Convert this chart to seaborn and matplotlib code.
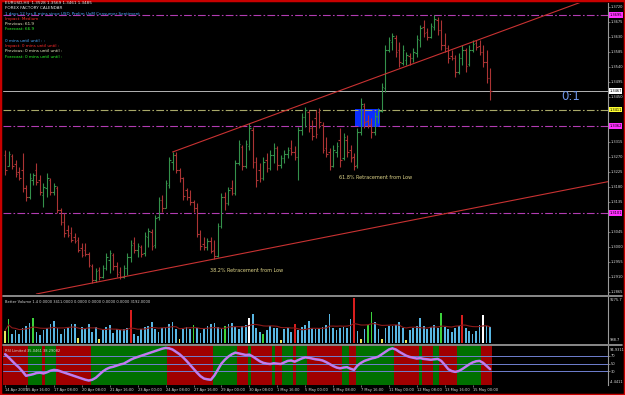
import numpy as np
import pandas as pd
import matplotlib
matplotlib.use("Agg")
import matplotlib.pyplot as plt
from matplotlib.patches import Rectangle
from matplotlib.lines import Line2D
import seaborn as sns

# EURUSD H4, 14 Apr - 15 May 2009
opens = [
    1.3275, 1.3242, 1.3272, 1.3248, 1.3224, 1.3230, 1.3176, 1.3149, 1.3200, 1.3230,
    1.3200, 1.3155, 1.3176, 1.3200, 1.3164, 1.3176, 1.3110, 1.3074, 1.3050, 1.3041,
    1.3029, 1.3020, 1.2996, 1.2990, 1.2978, 1.2942, 1.2900, 1.2930, 1.2909, 1.2936,
    1.2960, 1.2975, 1.2942, 1.2924, 1.2909, 1.2936, 1.2969, 1.3011, 1.2990, 1.2999,
    1.2981, 1.3029, 1.3044, 1.3005, 1.3089, 1.3140, 1.3116, 1.3185, 1.3254, 1.3275,
    1.3230, 1.3206, 1.3170, 1.3149, 1.3134, 1.3116, 1.3038, 1.3008, 1.2999, 1.3017,
    1.2990, 1.2972, 1.3062, 1.3149, 1.3131, 1.3176, 1.3161, 1.3251, 1.3299, 1.3242,
    1.3302, 1.3350, 1.3254, 1.3230, 1.3206, 1.3260, 1.3236, 1.3275, 1.3296, 1.3245,
    1.3266, 1.3278, 1.3296, 1.3284, 1.3269, 1.3350, 1.3389, 1.3404, 1.3356, 1.3386,
    1.3404, 1.3365, 1.3296, 1.3284, 1.3242, 1.3284, 1.3320, 1.3266, 1.3320, 1.3290,
    1.3269, 1.3245, 1.3344, 1.3422, 1.3377, 1.3368, 1.3344, 1.3389, 1.3407, 1.3476,
    1.3590, 1.3614, 1.3626, 1.3590, 1.3551, 1.3560, 1.3572, 1.3566, 1.3581, 1.3620,
    1.3659, 1.3644, 1.3629, 1.3659, 1.3680, 1.3650, 1.3605, 1.3596, 1.3572, 1.3566,
    1.3524, 1.3566, 1.3590, 1.3548, 1.3590, 1.3611, 1.3602, 1.3584, 1.3554, 1.3506,
]
highs = [
    1.3290, 1.3287, 1.3278, 1.3260, 1.3239, 1.3281, 1.3185, 1.3221, 1.3221, 1.3251,
    1.3215, 1.3191, 1.3221, 1.3206, 1.3191, 1.3182, 1.3116, 1.3101, 1.3065, 1.3059,
    1.3041, 1.3029, 1.3011, 1.3011, 1.2984, 1.2948, 1.2936, 1.2939, 1.2945, 1.2981,
    1.2990, 1.2981, 1.2954, 1.2939, 1.2945, 1.2981, 1.3020, 1.3029, 1.3011, 1.3005,
    1.3044, 1.3056, 1.3053, 1.3095, 1.3149, 1.3155, 1.3200, 1.3269, 1.3284, 1.3284,
    1.3236, 1.3209, 1.3176, 1.3170, 1.3140, 1.3131, 1.3050, 1.3029, 1.3026, 1.3029,
    1.3020, 1.3071, 1.3161, 1.3164, 1.3179, 1.3200, 1.3260, 1.3320, 1.3305, 1.3320,
    1.3371, 1.3359, 1.3269, 1.3251, 1.3269, 1.3281, 1.3290, 1.3311, 1.3302, 1.3275,
    1.3290, 1.3299, 1.3320, 1.3302, 1.3359, 1.3401, 1.3419, 1.3410, 1.3380, 1.3410,
    1.3416, 1.3374, 1.3329, 1.3296, 1.3305, 1.3314, 1.3356, 1.3341, 1.3335, 1.3305,
    1.3281, 1.3356, 1.3446, 1.3431, 1.3395, 1.3386, 1.3404, 1.3416, 1.3491, 1.3605,
    1.3629, 1.3641, 1.3635, 1.3614, 1.3605, 1.3584, 1.3581, 1.3596, 1.3635, 1.3665,
    1.3680, 1.3656, 1.3671, 1.3695, 1.3689, 1.3680, 1.3641, 1.3605, 1.3590, 1.3575,
    1.3581, 1.3605, 1.3596, 1.3605, 1.3620, 1.3620, 1.3620, 1.3605, 1.3590, 1.3536,
]
lows = [
    1.3215, 1.3242, 1.3233, 1.3209, 1.3200, 1.3164, 1.3137, 1.3143, 1.3185, 1.3185,
    1.3155, 1.3119, 1.3149, 1.3155, 1.3155, 1.3101, 1.3065, 1.3029, 1.3029, 1.3014,
    1.3011, 1.2984, 1.2969, 1.2972, 1.2939, 1.2891, 1.2894, 1.2900, 1.2906, 1.2930,
    1.2921, 1.2930, 1.2909, 1.2903, 1.2906, 1.2915, 1.2954, 1.2981, 1.2969, 1.2969,
    1.2972, 1.2999, 1.2990, 1.2996, 1.3080, 1.3104, 1.3116, 1.3176, 1.3230, 1.3221,
    1.3194, 1.3140, 1.3140, 1.3125, 1.3104, 1.3029, 1.2990, 1.2990, 1.2990, 1.2981,
    1.2963, 1.2969, 1.3056, 1.3110, 1.3125, 1.3155, 1.3155, 1.3245, 1.3230, 1.3236,
    1.3290, 1.3236, 1.3179, 1.3194, 1.3200, 1.3224, 1.3230, 1.3251, 1.3230, 1.3236,
    1.3251, 1.3266, 1.3275, 1.3260, 1.3200, 1.3335, 1.3359, 1.3344, 1.3320, 1.3326,
    1.3356, 1.3281, 1.3269, 1.3230, 1.3239, 1.3269, 1.3239, 1.3260, 1.3269, 1.3254,
    1.3230, 1.3236, 1.3335, 1.3356, 1.3356, 1.3326, 1.3335, 1.3371, 1.3404, 1.3464,
    1.3584, 1.3590, 1.3569, 1.3539, 1.3545, 1.3545, 1.3545, 1.3554, 1.3569, 1.3599,
    1.3629, 1.3620, 1.3626, 1.3650, 1.3635, 1.3590, 1.3584, 1.3551, 1.3560, 1.3509,
    1.3518, 1.3545, 1.3524, 1.3542, 1.3584, 1.3590, 1.3575, 1.3539, 1.3491, 1.3440,
]
closes = [
    1.3230, 1.3278, 1.3242, 1.3218, 1.3206, 1.3176, 1.3149, 1.3206, 1.3215, 1.3194,
    1.3164, 1.3179, 1.3206, 1.3164, 1.3182, 1.3110, 1.3074, 1.3041, 1.3035, 1.3020,
    1.3017, 1.2990, 1.2975, 1.2978, 1.2945, 1.2900, 1.2927, 1.2909, 1.2936, 1.2969,
    1.2981, 1.2942, 1.2918, 1.2909, 1.2936, 1.2969, 1.3005, 1.2990, 1.3002, 1.2978,
    1.3032, 1.3047, 1.3002, 1.3086, 1.3140, 1.3116, 1.3191, 1.3260, 1.3275, 1.3230,
    1.3206, 1.3152, 1.3149, 1.3134, 1.3116, 1.3038, 1.3002, 1.2999, 1.3017, 1.2987,
    1.2972, 1.3062, 1.3149, 1.3131, 1.3170, 1.3161, 1.3251, 1.3308, 1.3242, 1.3308,
    1.3356, 1.3254, 1.3200, 1.3206, 1.3254, 1.3236, 1.3275, 1.3296, 1.3245, 1.3266,
    1.3278, 1.3290, 1.3284, 1.3269, 1.3350, 1.3389, 1.3410, 1.3356, 1.3332, 1.3338,
    1.3374, 1.3290, 1.3278, 1.3242, 1.3290, 1.3302, 1.3260, 1.3329, 1.3284, 1.3266,
    1.3242, 1.3344, 1.3428, 1.3374, 1.3365, 1.3344, 1.3392, 1.3407, 1.3479, 1.3590,
    1.3620, 1.3632, 1.3584, 1.3554, 1.3590, 1.3575, 1.3566, 1.3584, 1.3623, 1.3656,
    1.3641, 1.3629, 1.3662, 1.3683, 1.3650, 1.3605, 1.3596, 1.3566, 1.3566, 1.3524,
    1.3566, 1.3590, 1.3542, 1.3590, 1.3608, 1.3599, 1.3584, 1.3554, 1.3506, 1.3467,
]

time_labels = [
    "14 Apr 2009", "15 Apr 16:00", "17 Apr 08:00", "20 Apr 08:00", "21 Apr 16:00",
    "23 Apr 00:00", "24 Apr 08:00", "27 Apr 16:00", "29 Apr 00:00", "30 Apr 08:00",
    "1 May 16:00", "5 May 00:00", "6 May 08:00", "7 May 16:00", "11 May 00:00",
    "12 May 08:00", "13 May 16:00", "15 May 00:00",
]

# Better Volume histogram; b=normal, g=climax low, r=climax high, y=low volume, w=churn
volumes = [
    3200, 5300, 2600, 3300, 2500, 3600, 4100, 4600, 5500, 3000,
    2400, 3300, 3600, 4400, 4900, 3700, 2600, 3400, 3700, 4500,
    4400, 1800, 3800, 3400, 4400, 3000, 3900, 1600, 3300, 3800,
    4200, 2700, 3500, 3300, 3500, 3600, 7000, 2600, 2200, 3500,
    3800, 4000, 4800, 3500, 3000, 3600, 3900, 4500, 4800, 3500,
    1700, 3500, 3800, 3500, 4300, 3700, 2800, 3400, 4000, 4400,
    4600, 3800, 3400, 4000, 4400, 4600, 3900, 3500, 4000, 4300,
    5600, 6200, 3600, 3000, 2600, 3300, 4000, 3600, 3600, 1500,
    3400, 3700, 3000, 4500, 3300, 3800, 4200, 5000, 3700, 3400,
    3700, 3900, 4300, 6300, 3600, 3300, 3600, 3900, 3700, 5400,
    9200, 3200, 1600, 3400, 4300, 6600, 4700, 3500, 1600, 3600,
    4100, 4000, 4200, 4700, 3700, 1500, 3300, 3700, 4000, 5500,
    4000, 3500, 3800, 4300, 3700, 6400, 3800, 3400, 3000, 3700,
    4000, 6000, 3700, 3200, 2600, 3200, 4200, 6000, 4000, 3800,
]
vol_kind = ("ygbbbbbbgb" "bbbbbbbbbb" "bybbbbbybb" "bbbbbbrbbb" "bbbbbbbbbb"
            "ybbbgbbbbb" "bbbgbbbbbb" "wbbbgbbbby" "bbbrbbbbbb" "bbbbbbbbbb"
            "rbybggbbyb" "bbbbbybbbb" "bbbbbgbbbb" "brbbbbbwbb")

rsi = [
    74, 66, 57, 48, 40, 30, 19, 21, 23, 26,
    27, 25, 28, 32, 34, 33, 30, 27, 24, 21,
    18, 15, 12, 9, 7, 9, 14, 22, 30, 36,
    40, 42, 45, 48, 50, 55, 60, 64, 67, 70,
    73, 76, 79, 82, 85, 88, 90, 89, 86, 80,
    74, 66, 57, 47, 37, 27, 18, 12, 10, 9,
    20, 35, 50, 60, 68, 74, 78, 76, 74, 72,
    73, 68, 62, 56, 52, 50, 49, 51, 50, 49,
    53, 57, 58, 55, 59, 63, 66, 65, 63, 61,
    60, 58, 54, 49, 44, 40, 38, 40, 41, 37,
    34, 45, 52, 57, 60, 63, 65, 68, 74, 80,
    86, 89, 86, 80, 75, 70, 67, 65, 63, 64,
    62, 61, 60, 61, 62, 57, 47, 36, 31, 29,
    31, 36, 42, 48, 53, 56, 57, 52, 44, 36,
]
# runs of falling (R) / rising (G) background bars in the RSI window
rsi_runs = [("R", 7), ("G", 4), ("R", 1), ("G", 3), ("R", 10), ("G", 22), ("R", 13),
            ("G", 7), ("R", 3), ("G", 1), ("R", 6), ("G", 1), ("R", 2), ("G", 3),
            ("R", 1), ("G", 3), ("R", 10), ("G", 2), ("R", 2), ("G", 11), ("R", 7),
            ("G", 1), ("R", 3), ("G", 2), ("R", 5), ("G", 7), ("R", 3)]

magenta_levels = [1.3695, 1.3362, 1.3101]
yellow_level = 1.3411
bid = 1.3467
# trend lines as (bar, price) anchor pairs
upper_channel = [(48, 1.3284), (142, 1.3645)]
lower_channel = [(25, 1.2891), (60, 1.2963)]
retrace_box = (100.3, 107.4, 1.3359, 1.3413)

df = pd.DataFrame({"open": opens, "high": highs, "low": lows, "close": closes,
                   "volume": volumes, "rsi": rsi})
df["bar"] = np.arange(len(df))
df["vma"] = df["volume"].rolling(14, min_periods=1).mean()

sns.set_style("dark", {"axes.facecolor": "black", "figure.facecolor": "black"})
plt.rcParams["font.family"] = ["DejaVu Sans"]

W, H = 625, 395
fig = plt.figure(figsize=(W / 100, H / 100), dpi=100)


def rect(x0, y0, x1, y1):
    return [x0 / W, 1 - y1 / H, (x1 - x0) / W, (y1 - y0) / H]


ax = fig.add_axes(rect(3, 3, 608, 294))
axv = fig.add_axes(rect(3, 297, 608, 343), sharex=ax)
axr = fig.add_axes(rect(3, 346, 608, 385), sharex=ax)
for a in (ax, axv, axr):
    a.set_facecolor("black")
    a.grid(False)
    for s in a.spines.values():
        s.set_visible(False)
    a.spines["right"].set_visible(True)
    a.spines["right"].set_color("#9a9a9a")
    a.spines["right"].set_linewidth(0.8)
    a.yaxis.tick_right()
    a.tick_params(axis="y", colors="#9a9a9a", labelcolor="#d8d8d8", labelsize=2.6,
                  length=1.2, width=0.5, pad=0.8)
XMAX = 172.8
ax.set_xlim(-0.6, XMAX)

# ---- price window ----
ax.set_ylim(1.2858, 1.3731)
marked = magenta_levels + [yellow_level, bid]
ticks = [t for t in np.round(np.arange(1.2865, 1.3725, 0.0045), 4)
         if min(abs(t - m) for m in marked) > 0.0014]
ax.set_yticks(ticks)
ax.yaxis.set_major_formatter(matplotlib.ticker.FormatStrFormatter("%.4f"))

x0, x1, p0, p1 = retrace_box
ax.add_patch(Rectangle((x0, p0), x1 - x0, p1 - p0, color="#0a2dff", lw=0, zorder=1))

dashdot = (0, (7, 2, 1.5, 2))
for lv in magenta_levels:
    ax.axhline(lv, color="#b23cb2", lw=0.8, ls=dashdot, zorder=1)
ax.axhline(yellow_level, color="#a8a868", lw=0.8, ls=dashdot, zorder=1)
ax.axhline(bid, color="#b4b4b4", lw=0.7, zorder=1)

up = df[df["close"] >= df["open"]]
dn = df[df["close"] < df["open"]]
for part, col in ((up, "#34914a"), (dn, "#ab3434")):
    ax.vlines(part["bar"], part["low"], part["high"], color=col, lw=0.8, zorder=2)
    ax.hlines(part["open"], part["bar"] - 0.45, part["bar"], color=col, lw=0.8, zorder=2)
    ax.hlines(part["close"], part["bar"], part["bar"] + 0.45, color=col, lw=0.8, zorder=2)

(ua, pa), (ub, pb) = upper_channel
slope = (pb - pa) / (ub - ua)
ax.plot([ua, XMAX], [pa, pa + slope * (XMAX - ua)], color="#c83232", lw=0.8, zorder=3)
ax.axline(lower_channel[0], lower_channel[1], color="#c83232", lw=0.8, zorder=3)

ax.text(58.7, 1.2930, "38.2% Retracement from Low", color="#e0d68a", fontsize=3.5, va="center")
ax.text(95.7, 1.3209, "61.8% Retracement from Low", color="#e0d68a", fontsize=3.5, va="center")
ax.text(159.5, 1.3449, "0:1", color="#6f96e8", fontsize=8.5, va="center")

lab = dict(transform=ax.get_yaxis_transform(), fontsize=2.6, color="black", va="center",
           ha="left", zorder=5)
for lv in magenta_levels:
    ax.text(1.002, lv, f"{lv:.4f}", bbox=dict(fc="#ff30ff", ec="none", pad=0.5), **lab)
ax.text(1.002, yellow_level, f"{yellow_level:.4f}", bbox=dict(fc="#ffff30", ec="none", pad=0.5), **lab)
ax.text(1.002, bid, f"{bid:.4f}", bbox=dict(fc="white", ec="none", pad=0.5), **lab)

# ---- volume window ----
vol_palette = {"b": "#58b6e2", "g": "#3cd23c", "r": "#d81e1e", "y": "#e8e85a", "w": "#ffffff"}
axv.bar(df["bar"], df["volume"], width=0.5, color=[vol_palette[k] for k in vol_kind], lw=0)
sns.lineplot(x="bar", y="vma", data=df, ax=axv, color="#8b1a1a", lw=0.8)
axv.set_ylim(900, 9400)
axv.set_yticks([])
axv.set_xlabel("")
axv.set_ylabel("")
vt = dict(transform=axv.transAxes, fontsize=2.6, color="#d8d8d8", ha="left")
axv.text(1.003, 0.97, "9275.7", va="top", **vt)
axv.text(1.003, 0.03, "988.7", va="bottom", **vt)
axv.text(0.003, 0.93, "Better Volume 1.4 0.0000 3411.0000 0.0000 0.0000 0.0000 0.0000 3192.0000",
         transform=axv.transAxes, fontsize=2.6, color="#d8d8d8", va="top")

# ---- RSI window ----
bg = {"R": "#a00000", "G": "#007000"}
start = 0
for kind, n in rsi_runs:
    axr.axvspan(start - 0.5, start + n - 0.5, color=bg[kind], lw=0, zorder=0)
    start += n
for lv in (70, 50, 30):
    axr.axhline(lv, color="#6f7fd0", lw=0.7, zorder=1)
sns.lineplot(x="bar", y="rsi", data=df, ax=axr, color="#8c8cff", lw=1.8, zorder=2)
sns.lineplot(x="bar", y="rsi", data=df, ax=axr, color="#e070e0", lw=0.9, zorder=3)
axr.set_ylim(-4.4411, 94.9311)
axr.set_yticks([70, 50, 30])
axr.set_ylabel("")
rt = dict(transform=axr.transAxes, fontsize=2.6, color="#d8d8d8", ha="left")
axr.text(1.003, 0.95, "94.9311", va="top", **rt)
axr.text(1.003, 0.03, "-4.4411", va="bottom", **rt)
axr.text(0.003, 0.93, "RSI Limited 35.0461 38.29082", transform=axr.transAxes,
         fontsize=2.6, color="#d8d8d8", va="top")

axr.set_xticks([0] + list(range(6, len(df), 8)))
axr.set_xticklabels(time_labels)
axr.set_xlabel("")
axr.tick_params(axis="x", bottom=True, labelbottom=True, colors="#9a9a9a",
                labelcolor="#d8d8d8", labelsize=2.6, length=1.2, width=0.5, pad=0.8)
for t in axr.get_xticklabels():
    t.set_ha("left")
axr.get_xticklabels()[0].set_x(-0.8)
for a in (ax, axv):
    a.tick_params(axis="x", bottom=False, labelbottom=False)

# ---- calendar text block (top-left) ----
info = [
    (3, "EURUSD,H4  1.3528 1.3569 1.3461 1.3485", "#e8e8e8"),
    (8, "FOREX FACTORY CALENDAR", "#e8e8e8"),
    (13.5, "1 days 12 hrs 8 mins since USD_Prelim UoM Consumer Sentiment", "#4aa8ff"),
    (19, "Impact: Medium", "#ff2a2a"),
    (24, "Previous: 61.9", "#f0f0c8"),
    (29, "Forecast: 66.9", "#2aff2a"),
    (41, "0 mins until until : :", "#4aa8ff"),
    (46, "Impact: 0 mins until until :", "#ff2a2a"),
    (51.5, "Previous: 0 mins until until :", "#f0f0c8"),
    (57, "Forecast: 0 mins until until :", "#2aff2a"),
]
for y, s, c in info:
    fig.text(5 / W, 1 - y / H, s, fontsize=3, color=c, va="center", ha="left")

# window frame and panel separators
for y in (295.5, 344.5):
    fig.add_artist(Line2D([3 / W, 622 / W], [1 - y / H] * 2, color="#a0a0a0", lw=1.2))
fig.add_artist(Rectangle((0, 0), 1, 1, transform=fig.transFigure, fill=False,
                         ec="#c80000", lw=2.5))

fig.savefig("out.png", dpi=100, facecolor="black")
